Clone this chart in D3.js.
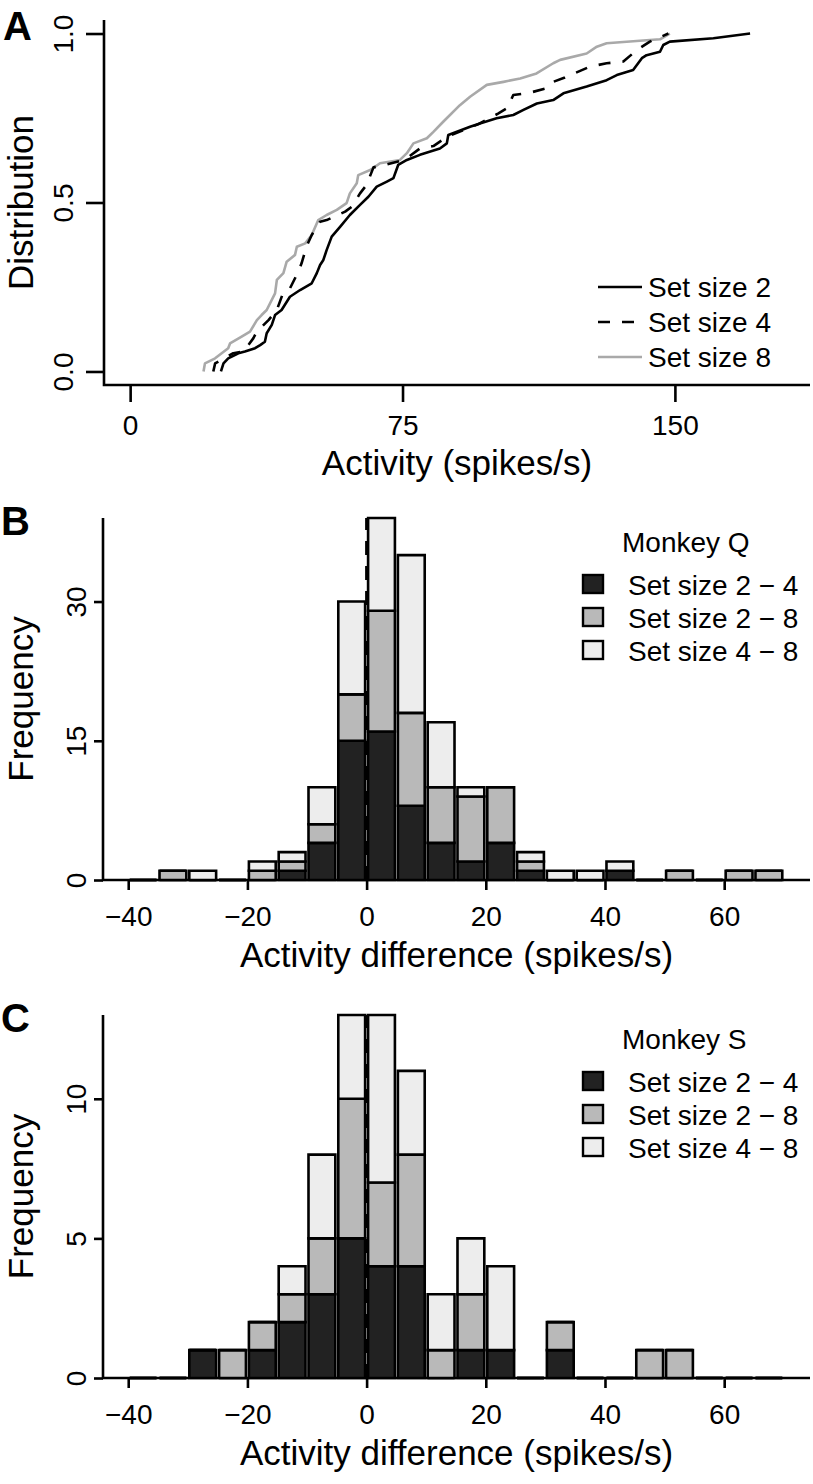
<!DOCTYPE html>
<html><head><meta charset="utf-8">
<script src="https://cdn.jsdelivr.net/npm/d3@7"></script>
<style>
body{margin:0;background:#fff}
text{font-family:"Liberation Sans",Arial,Helvetica,sans-serif;fill:#000}
</style>
</head><body>
<svg id="chart" width="813" height="1484"></svg>
<script>
// ---------- Panel A: cumulative distributions (activity, cumulative fraction) ----------
const actSS2 = [25.0,25.7,27.0,29.8,31.6,34.4,35.8,37.1,37.6,39.0,39.9,41.7,44.0,46.8,50.0,51.4,52.3,53.2,54.1,55.5,57.8,60.5,63.3,65.6,67.9,70.7,72.5,73.8,76.2,79.8,85.3,87.2,87.6,93.6,96.3,100.9,105.5,108.3,112.0,116.5,119.3,125.7,131.2,134.0,138.5,140.9,142.2,145.9,146.8,148.6,160.6,170.7];
const distSS2 = [0,0.024,0.039,0.054,0.059,0.069,0.078,0.088,0.113,0.138,0.167,0.182,0.221,0.241,0.261,0.291,0.315,0.330,0.359,0.399,0.428,0.463,0.493,0.517,0.547,0.562,0.572,0.611,0.626,0.641,0.660,0.675,0.700,0.724,0.734,0.749,0.759,0.774,0.793,0.803,0.823,0.843,0.862,0.877,0.892,0.927,0.936,0.946,0.966,0.976,0.986,1.0];
const actSS4 = [22.9,23.4,28.4,31.2,33.9,34.9,38.1,40.4,42.2,44.0,46.3,47.2,48.6,50.0,52.3,54.1,59.2,61.1,63.3,65.1,67.0,69.3,74.3,76.2,79.8,83.5,87.2,95.9,101.3,103.8,105.5,110.1,114.7,116.5,119.7,126.6,131.2,135.8,139.5,143.1,148.2];
const distSS4 = [0,0.024,0.054,0.059,0.098,0.118,0.152,0.182,0.235,0.246,0.295,0.320,0.371,0.404,0.443,0.448,0.473,0.488,0.527,0.552,0.604,0.609,0.623,0.631,0.660,0.667,0.694,0.732,0.763,0.779,0.818,0.825,0.838,0.857,0.870,0.902,0.912,0.917,0.951,0.976,1.0];
const actSS8 = [20.2,20.6,23.4,25.2,27.0,27.5,30.7,33.0,34.9,36.2,37.6,39.9,40.4,42.2,43.1,45.4,45.9,48.2,50.0,51.8,54.1,56.9,59.6,60.5,62.4,62.8,66.1,68.8,74.3,76.2,78.0,81.7,83.5,86.2,90.8,93.6,98.2,102.8,107.4,111.9,116.5,118.4,125.7,128.5,131.2,145.9,148.6];
const distSS8 = [0,0.024,0.039,0.054,0.069,0.083,0.103,0.118,0.152,0.167,0.182,0.231,0.271,0.291,0.325,0.345,0.369,0.379,0.404,0.448,0.463,0.478,0.498,0.527,0.557,0.581,0.596,0.616,0.626,0.646,0.675,0.690,0.709,0.739,0.788,0.813,0.848,0.857,0.867,0.882,0.912,0.922,0.941,0.961,0.971,0.983,1.0];
const seriesA = ["Set size 2","Set size 4","Set size 8"];
const ticksAx = [0,75,150];
const ticksAy = [0,0.5,1];

// ---------- Panels B, C: histograms of activity differences ----------
const binLeft = [-40,-35,-30,-25,-20,-15,-10,-5,0,5,10,15,20,25,30,35,40,45,50,55,60,65];
const q24 = [0,0,0,0,0,1,4,15,16,8,4,2,4,1,0,0,1,0,0,0,0,0];
const q28 = [0,1,0,0,1,1,2,5,13,10,6,7,6,1,0,0,0,0,1,0,1,1];
const q48 = [0,0,1,0,1,1,4,10,10,17,7,1,0,1,1,1,1,0,0,0,0,0];
const s24 = [0,0,1,0,1,2,3,5,4,4,0,1,1,0,1,0,0,0,0,0,0,0];
const s28 = [0,0,0,1,1,1,2,5,3,4,1,2,0,0,1,0,0,1,1,0,0,0];
const s48 = [0,0,0,0,0,1,3,3,6,3,2,2,3,0,0,0,0,0,0,0,0,0];
const seriesB = ["Set size 2 \u2212 4","Set size 2 \u2212 8","Set size 4 \u2212 8"];
const ticksBx = [-40,-20,0,20,40,60];
const ticksBy = [0,15,30];
const ticksCy = [0,5,10];

// ---------- drawing ----------
const svg = d3.select("#chart");
const FS = 28, FT = 35;

function txt(g, s, x, y, opts={}) {
  const t = g.append("text").attr("x", x).attr("y", y).text(s)
    .style("font-size", (opts.size||FS)+"px");
  if (opts.anchor) t.attr("text-anchor", opts.anchor);
  if (opts.bold) t.style("font-weight", "bold");
  if (opts.rot) t.attr("transform", `rotate(-90,${x},${y})`);
  return t;
}

function axes(x, y, box, xt, yt, xTick, yTick, xLabOff, yLabOff, fmtY) {
  // box (L shape)
  svg.append("path")
    .attr("d", `M${box.l},${box.t}V${box.b}H${box.r}`)
    .attr("fill","none").attr("stroke","#000").attr("stroke-width",2.6);
  const gx = svg.append("g").attr("transform", `translate(0,${box.b})`)
    .call(d3.axisBottom(x).tickValues(xt).tickSize(xTick).tickSizeOuter(0));
  gx.select(".domain").remove();
  gx.selectAll(".tick line").attr("stroke","#000").attr("stroke-width",2.6);
  gx.selectAll(".tick text").attr("y", xLabOff).attr("dy", 0)
    .style("font-size", FS+"px").style("font-family", '"Liberation Sans",Arial,sans-serif');
  const gy = svg.append("g").attr("transform", `translate(${box.l},0)`)
    .call(d3.axisLeft(y).tickValues(yt).tickSize(yTick).tickSizeOuter(0).tickFormat(fmtY));
  gy.select(".domain").remove();
  gy.selectAll(".tick line").attr("stroke","#000").attr("stroke-width",2.6);
  gy.selectAll(".tick text").attr("x", 0).attr("y", -yLabOff).attr("dy", 0)
    .attr("text-anchor","middle").attr("transform","rotate(-90)")
    .style("font-size", FS+"px").style("font-family", '"Liberation Sans",Arial,sans-serif');
}

// Panel A
{
  const box = {l:104, r:810, t:20, b:385};
  const x = d3.scaleLinear().domain([-7.2, 187.2]).range([box.l, box.r]);
  const y = d3.scaleLinear().domain([-0.04, 1.04]).range([box.b, box.t]);
  axes(x, y, box, ticksAx, ticksAy, 17, 18, 50, 31, d3.format(".1f"));
  const line = d3.line().x(d => x(d[0])).y(d => y(d[1]));
  const styles = [
    {stroke:"#000", dash:null},
    {stroke:"#000", dash:"12,12"},
    {stroke:"#a9a9a9", dash:null}
  ];
  const data = [d3.zip(actSS2, distSS2), d3.zip(actSS4, distSS4), d3.zip(actSS8, distSS8)];
  [2,1,0].forEach(i => {
    svg.append("path").attr("d", line(data[i])).attr("fill","none")
      .attr("stroke", styles[i].stroke).attr("stroke-width", 2.6)
      .attr("stroke-linejoin","round")
      .attr("stroke-dasharray", styles[i].dash);
  });
  seriesA.forEach((s, i) => {
    const ly = 287 + i*35;
    svg.append("line").attr("x1",598).attr("x2",642).attr("y1",ly).attr("y2",ly)
      .attr("stroke", styles[i].stroke).attr("stroke-width",2.6)
      .attr("stroke-dasharray", styles[i].dash);
    txt(svg, s, 648, ly+10);
  });
  txt(svg, "Activity (spikes/s)", (box.l+box.r)/2, 475, {size:FT, anchor:"middle"});
  txt(svg, "Distribution", 33, (box.t+box.b)/2, {size:FT, anchor:"middle", rot:true});
  txt(svg, "A", 3, 40, {size:40, bold:true});
}

function histPanel(box, ymax, d24, d28, d48, yt, title, letter, letterY, legY) {
  const x = d3.scaleLinear().domain([-44.4, 74.4]).range([box.l-1, box.r]);
  const y = d3.scaleLinear().domain([0, ymax]).range([box.b, box.t]);
  axes(x, y, box, ticksBx, yt, 10, 9, 46, 17, d3.format("d"));
  const fills = ["#222222","#b9b9b9","#ededed"];
  const stacks = [d24, d28, d48];
  binLeft.forEach((b, i) => {
    let base = 0;
    stacks.forEach((arr, k) => {
      const v = arr[i];
      const x0 = x(b + 0.25), x1 = x(b + 4.75);
      const y0 = y(base), y1 = y(base + v);
      svg.append("path")
        .attr("d", `M${x0},${y0}H${x1}V${y1}H${x0}Z`)
        .attr("fill", fills[k]).attr("stroke","#000").attr("stroke-width",2.6)
        .attr("stroke-linejoin","miter");
      base += v;
    });
  });
  // zero line
  svg.append("line").attr("x1", x(0)).attr("x2", x(0)).attr("y1", y(0)).attr("y2", y(ymax))
    .attr("stroke","#000").attr("stroke-width",3).attr("stroke-dasharray","14,11");
  // legend
  txt(svg, title, 622, legY);
  seriesB.forEach((s, k) => {
    const cy = legY + 33 + k*33;
    svg.append("rect").attr("x",583).attr("y",cy-10).attr("width",20).attr("height",18)
      .attr("fill", fills[k]).attr("stroke","#000").attr("stroke-width",2.4);
    txt(svg, s, 628, cy+10);
  });
  txt(svg, "Activity difference (spikes/s)", (box.l+box.r)/2, box.b+87, {size:FT, anchor:"middle"});
  txt(svg, "Frequency", 33, (box.t+box.b)/2, {size:FT, anchor:"middle", rot:true});
  txt(svg, letter, 1, letterY, {size:40, bold:true});
}

histPanel({l:103, r:810, t:518, b:880}, 39, q24, q28, q48, ticksBy, "Monkey Q", "B", 535, 552);
histPanel({l:103, r:810, t:1015, b:1378}, 13, s24, s28, s48, ticksCy, "Monkey S", "C", 1032, 1049);
</script>
</body></html>
